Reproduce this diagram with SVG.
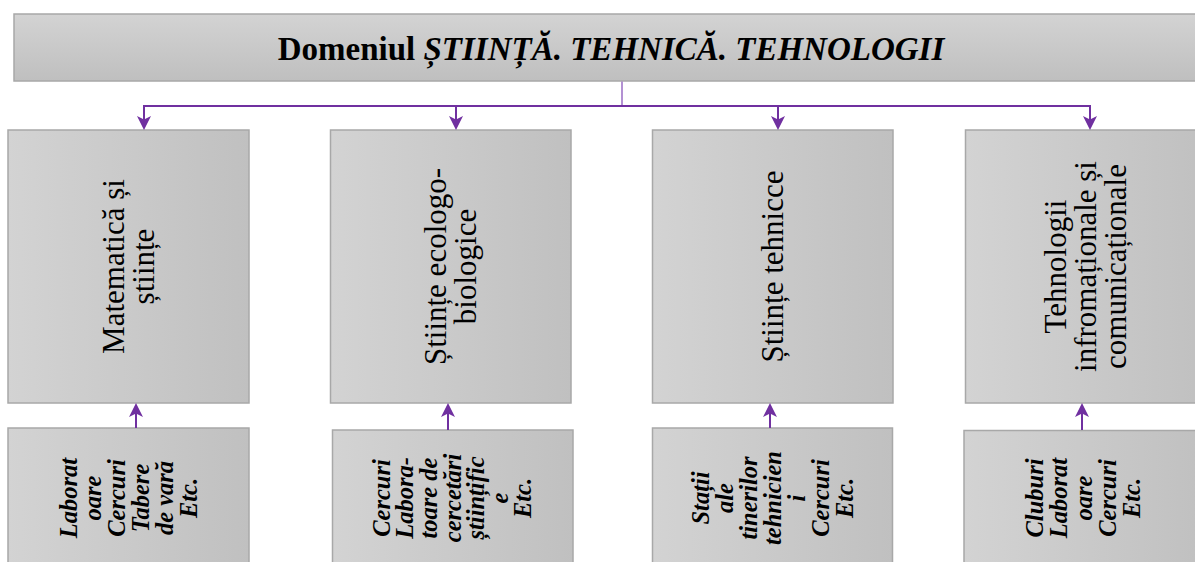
<svg xmlns="http://www.w3.org/2000/svg" width="1195" height="562" viewBox="0 0 1195 562">
<defs>
<linearGradient id="gh" x1="0" y1="0" x2="1" y2="0">
<stop offset="0" stop-color="#d3d3d3"/>
<stop offset="1" stop-color="#c0c0c0"/>
</linearGradient>
<linearGradient id="gv" x1="0" y1="0" x2="0" y2="1">
<stop offset="0" stop-color="#d3d3d3"/>
<stop offset="1" stop-color="#bfbfbf"/>
</linearGradient>
<marker id="ah" markerUnits="userSpaceOnUse" markerWidth="16" markerHeight="16" viewBox="0 0 16 16" refX="10" refY="8" orient="auto">
<path d="M0,1 L14,8 L0,15 L3.5,8 z" fill="#7030a0"/>
</marker>
<style>
.box{fill:url(#gh);stroke:#a8a8a8;stroke-width:1.5}
.title{fill:url(#gv);stroke:#a8a8a8;stroke-width:1.5}
.t{font-family:"Liberation Serif","Times New Roman",serif;fill:#000;text-anchor:middle}
.top{font-size:31px}
.bot{font-size:24.5px;font-weight:bold;font-style:italic}
.conn{fill:none;stroke:#7030a0;stroke-width:2}
</style>
</defs>
<g id="title">
<rect class="title" x="14" y="14" width="1200" height="67"/>
<text class="t" x="611" y="59.5" font-size="33" font-weight="bold">Domeniul <tspan font-style="italic">ȘTIINȚĂ. TEHNICĂ. TEHNOLOGII</tspan></text>
</g>
<g id="n1">
<rect class="box" x="8" y="130" width="241" height="273"/>
<text class="t top" transform="translate(128.5,266.5) rotate(-90)"><tspan x="0" y="-5">Matematică și</tspan><tspan x="0" y="25">științe</tspan></text>
</g>
<g id="n2">
<rect class="box" x="330.5" y="130" width="240.5" height="273"/>
<text class="t top" transform="translate(450.5,266.5) rotate(-90)"><tspan x="0" y="-5">Științe ecologo-</tspan><tspan x="0" y="25">biologice</tspan></text>
</g>
<g id="n3">
<rect class="box" x="652.5" y="130" width="240.5" height="273"/>
<text class="t top" transform="translate(772.5,266.5) rotate(-90)"><tspan x="0" y="10">Științe tehnicce</tspan></text>
</g>
<g id="n4">
<rect class="box" x="965.5" y="130" width="241" height="273"/>
<text class="t top" transform="translate(1085.5,266.5) rotate(-90)"><tspan x="0" y="-20">Tehnologii</tspan><tspan x="0" y="10">infromaționale și</tspan><tspan x="0" y="40">comunicaționale</tspan></text>
</g>
<g id="n1b">
<rect class="box" x="8" y="428" width="241" height="150"/>
<text class="t bot" transform="translate(128.5,498) rotate(-90)"><tspan x="0" y="-51.5">Laborat</tspan><tspan x="0" y="-27.5">oare</tspan><tspan x="0" y="-3.5">Cercuri</tspan><tspan x="0" y="20.5">Tabere</tspan><tspan x="0" y="44.5">de vară</tspan><tspan x="0" y="68.5">Etc.</tspan></text>
</g>
<g id="n2b">
<rect class="box" x="332.5" y="430" width="240.5" height="150"/>
<text class="t bot" transform="translate(452.75,498) rotate(-90)"><tspan x="0" y="-63">Cercuri</tspan><tspan x="0" y="-39.4">Labora-</tspan><tspan x="0" y="-15.8">toare de</tspan><tspan x="0" y="7.8">cercetări</tspan><tspan x="0" y="31.4">științific</tspan><tspan x="0" y="55">e</tspan><tspan x="0" y="78.6">Etc.</tspan></text>
</g>
<g id="n3b">
<rect class="box" x="652.5" y="428" width="240" height="150"/>
<text class="t bot" transform="translate(772.6,498) rotate(-90)"><tspan x="0" y="-64">Stații</tspan><tspan x="0" y="-40">ale</tspan><tspan x="0" y="-16">tinerilor</tspan><tspan x="0" y="8">tehnicien</tspan><tspan x="0" y="32">i</tspan><tspan x="0" y="56">Cercuri</tspan><tspan x="0" y="80">Etc.</tspan></text>
</g>
<g id="n4b">
<rect class="box" x="964" y="430.5" width="241" height="150"/>
<text class="t bot" transform="translate(1084.5,498) rotate(-90)"><tspan x="0" y="-41.4">Cluburi</tspan><tspan x="0" y="-17.2">Laborat</tspan><tspan x="0" y="7">oare</tspan><tspan x="0" y="31.2">Cercuri</tspan><tspan x="0" y="55.4">Etc.</tspan></text>
</g>
<g id="connectors">
<path d="M622,81.5 V106" fill="none" stroke="#9a6cc4" stroke-width="1.5"/>
<path class="conn" d="M144,106 H1090"/>
<path class="conn" d="M144,105 V126" marker-end="url(#ah)"/>
<path class="conn" d="M456,106 V126" marker-end="url(#ah)"/>
<path class="conn" d="M778,106 V126" marker-end="url(#ah)"/>
<path class="conn" d="M1090,105 V126" marker-end="url(#ah)"/>
<path class="conn" d="M136,428 V407" marker-end="url(#ah)"/>
<path class="conn" d="M448,430 V407" marker-end="url(#ah)"/>
<path class="conn" d="M770,428 V407" marker-end="url(#ah)"/>
<path class="conn" d="M1082,430 V407" marker-end="url(#ah)"/>
</g>
</svg>
